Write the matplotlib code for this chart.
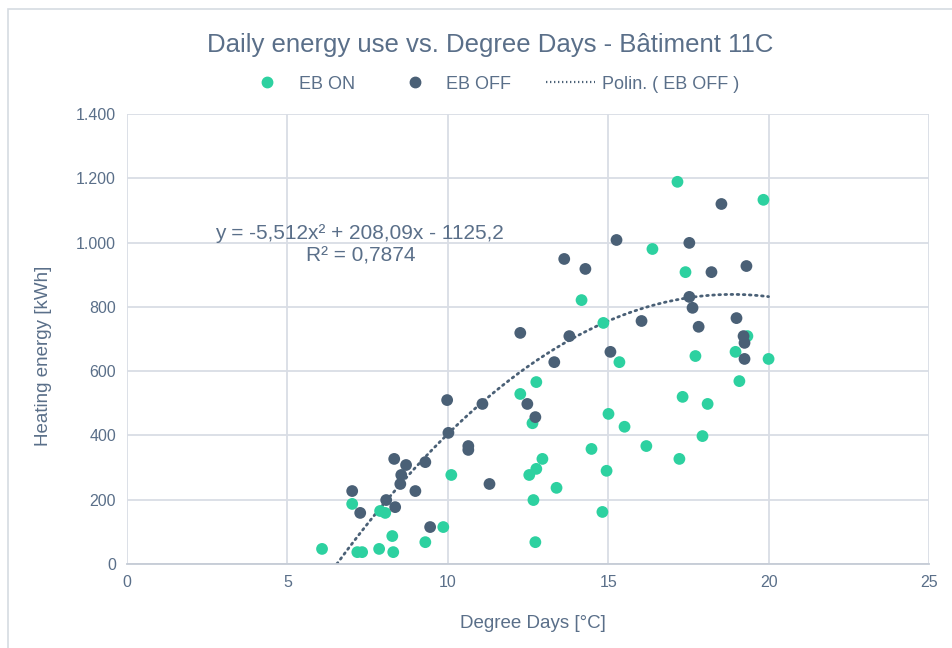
"""Daily heating energy against degree days for Bâtiment 11C."""

import matplotlib.pyplot as plt
import numpy as np
from matplotlib.lines import Line2D
from matplotlib.patches import Rectangle
from matplotlib.ticker import FuncFormatter

plt.rcParams["font.family"] = ["Liberation Sans", "DejaVu Sans"]

# days with the EB system switched on
eb_on_dd = [6.08, 7.02, 7.18, 7.33, 7.86, 7.89, 8.05, 8.27, 8.30, 9.30, 9.86, 10.11,
            12.26, 12.54, 12.64, 12.67, 12.73, 12.76, 12.76, 12.95, 13.39, 14.17,
            14.48, 14.82, 14.85, 14.95, 15.01, 15.35, 15.51, 16.19, 16.38, 17.16,
            17.22, 17.32, 17.41, 17.72, 17.94, 18.10, 18.97, 19.09, 19.34, 19.84, 20.0]
eb_on_kwh = [47, 187, 37, 37, 47, 165, 159, 87, 37, 68, 115, 277,
             529, 277, 438, 199, 68, 566, 296, 327, 237, 821,
             358, 162, 750, 290, 467, 628, 427, 367, 980, 1189,
             327, 520, 908, 647, 398, 498, 660, 569, 709, 1133, 638]

# days with the EB system switched off
eb_off_dd = [7.02, 7.27, 8.08, 8.33, 8.36, 8.52, 8.55, 8.70, 8.99, 9.30, 9.45, 9.98,
             10.02, 10.64, 10.64, 11.08, 11.30, 12.26, 12.48, 12.73, 13.32, 13.63,
             13.79, 14.29, 15.07, 15.26, 16.04, 17.53, 17.53, 17.63, 17.82, 18.22,
             18.53, 19.0, 19.22, 19.25, 19.25, 19.31]
eb_off_kwh = [227, 159, 199, 327, 177, 249, 277, 308, 227, 317, 115, 510,
              408, 367, 355, 498, 249, 719, 498, 457, 628, 949,
              709, 918, 660, 1008, 756, 999, 831, 797, 738, 908,
              1120, 765, 709, 688, 638, 927]

# polynomial trend (EB OFF), as reported by the spreadsheet
poly_coef = [-5.512, 208.09, -1125.2]
r_squared = 0.7874

GREEN = "#2dd1a0"
SLATE = "#4a6076"
TEXT = "#5a6f89"
GRID = "#d9dde5"

fig = plt.figure(figsize=(9.52, 6.48), dpi=100)
fig.patches.append(Rectangle((0.008, -0.02), 1.1, 1.006, transform=fig.transFigure,
                             fill=False, edgecolor="#d6dbe2", linewidth=1.2))
ax = fig.add_axes([0.1334, 0.1296, 0.8424, 0.6945])

# trendline from its root up to the last day
x0 = np.roots(poly_coef).min()
xs = np.linspace(x0, 20, 200)
ax.plot(xs, np.polyval(poly_coef, xs), color=SLATE, linewidth=2.0,
        linestyle=(0, (0.6, 1.6)), dash_capstyle="round", zorder=2)

ax.scatter(eb_on_dd, eb_on_kwh, s=72, color=GREEN, edgecolors="none", zorder=3)
ax.scatter(eb_off_dd, eb_off_kwh, s=72, color=SLATE, edgecolors="none", zorder=4)

ax.set_xlim(0, 25)
ax.set_ylim(0, 1400)
ax.set_xticks(range(0, 26, 5))
ax.set_yticks(range(0, 1401, 200))
ax.yaxis.set_major_formatter(FuncFormatter(lambda v, _: f"{int(v):,}".replace(",", ".")))
ax.grid(True, color=GRID, linewidth=1.3)
ax.set_axisbelow(True)
for side in ("left", "top", "right"):
    ax.spines[side].set_visible(False)
ax.spines["bottom"].set_color("#c5ccd6")
ax.spines["bottom"].set_linewidth(1.3)
ax.tick_params(length=0, labelsize=11.5, colors=TEXT, pad=8)

ax.set_xlabel("Degree Days [°C]", fontsize=13.5, color=TEXT)
ax.xaxis.set_label_coords(0.506, -0.113)
ax.set_ylabel("Heating energy [kWh]", fontsize=13.5, color=TEXT)
ax.yaxis.set_label_coords(-0.094, 0.462)

a, b, c = poly_coef
eq = f"y = {a:.3f}x² + {b:.2f}x - {abs(c):.1f}".replace(".", ",")
ax.text(7.24, 1027, eq, fontsize=15, color=TEXT, ha="center", va="center")
ax.text(7.3, 958, f"R² = {r_squared:.4f}".replace(".", ","), fontsize=15,
        color=TEXT, ha="center", va="center")

fig.text(0.515, 0.930, "Daily energy use vs. Degree Days - Bâtiment 11C",
         fontsize=18.5, color=TEXT, ha="center", va="center")

handles = [
    Line2D([], [], marker="o", linestyle="none", color=GREEN, markersize=7.5),
    Line2D([], [], marker="o", linestyle="none", color=SLATE, markersize=7.5),
    Line2D([], [], color=SLATE, linewidth=1.6, linestyle=(0, (0.6, 1.2))),
]
fig.legend(handles, ["EB ON", "EB OFF", "Polin. ( EB OFF )"], loc="center",
           bbox_to_anchor=(0.516, 0.870), ncol=3, frameon=False, fontsize=13,
           labelcolor=TEXT, columnspacing=1.95, handlelength=2.7, handletextpad=0.4)

fig.savefig("out.png", dpi=100)
